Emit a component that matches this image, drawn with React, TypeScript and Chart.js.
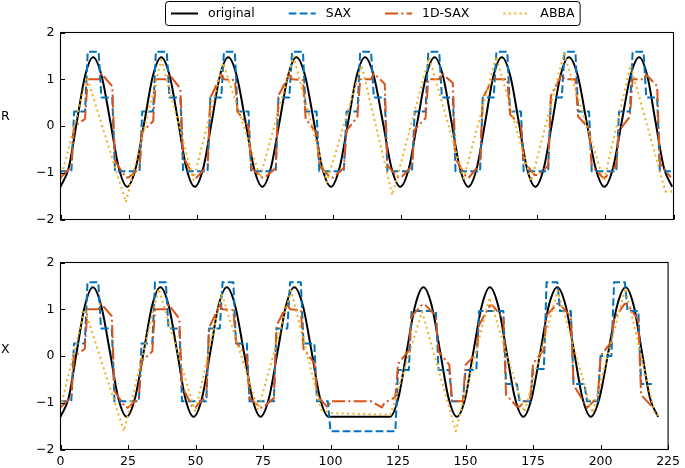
import React, { useEffect, useRef } from "react";
import { Chart, registerables } from "chart.js";

Chart.register(...registerables);

// ---------------- data ----------------
const SEGMENT_WIDTH = 5;
const X_TICKS = [0, 25, 50, 75, 100, 125, 150, 175, 200, 225];
const Y_TICKS = [-2, -1, 0, 1, 2];
const SERIES_NAMES = ["original", "SAX", "1D-SAX", "ABBA"];
const PANEL_NAMES = ["R", "X"];

// original series (key points: troughs, eighth-period points, peaks)
const R_ORIG_T = [
  0, 3, 6, 9, 12, 15.1, 18.3, 21.4, 24.5, 27.6, 30.8, 33.9, 37, 40.1, 43.2, 46.2, 49.3,
  52.4, 55.5, 58.5, 61.6, 64.7, 67.9, 71, 74.1, 77.2, 80.4, 83.5, 86.6, 89.8, 93, 96.1, 99.3,
  102.4, 105.6, 108.7, 111.8, 115, 118.3, 121.5, 124.7, 127.9, 131, 134.2, 137.3, 140.4, 143.5, 146.6, 149.7,
  152.8, 155.9, 158.9, 162, 165.1, 168.2, 171.2, 174.3, 177.4, 180.5, 183.5, 186.6, 189.9, 193.1, 196.4, 199.6,
  202.8, 206, 209.2, 212.4, 215.4, 218.4, 221.5, 224.5,
];
const R_ORIG_V = [
  -1.3,
  -0.9, 0.09, 1.07, 1.47, 1.07, 0.09, -0.9, -1.3,
  -0.9, 0.09, 1.07, 1.47, 1.07, 0.09, -0.9, -1.3,
  -0.9, 0.09, 1.07, 1.47, 1.07, 0.09, -0.9, -1.3,
  -0.9, 0.09, 1.07, 1.47, 1.07, 0.09, -0.9, -1.3,
  -0.9, 0.09, 1.07, 1.47, 1.07, 0.09, -0.9, -1.3,
  -0.9, 0.09, 1.07, 1.47, 1.07, 0.09, -0.9, -1.3,
  -0.9, 0.09, 1.07, 1.47, 1.07, 0.09, -0.9, -1.3,
  -0.9, 0.09, 1.07, 1.47, 1.07, 0.09, -0.9, -1.3,
  -0.9, 0.09, 1.07, 1.47, 1.07, 0.09, -0.9, -1.3,
];
const X_ORIG_T = [
  0, 3, 6, 9, 12, 15.1, 18.3, 21.4, 24.5, 27.6, 30.8, 33.9, 37, 40.1, 43.2, 46.2, 49.3,
  52.4, 55.5, 58.5, 61.6, 64.7, 67.9, 71, 74.1, 77.2, 80.4, 83.5, 86.6, 89.8, 93, 96.1, 99.3,
  122, 125.1, 128.2, 131.3, 134.4, 137.5, 140.6, 143.7, 146.8, 149.9, 152.9, 156, 159,
  162.1, 165.2, 168.3, 171.4, 174.5, 177.7, 180.8, 184, 187.1, 190.2, 193.3, 196.4,
  199.6, 202.9, 206.1, 209.3, 212.3, 215.3, 218.3, 221.3,
];
const X_ORIG_V = [
  -1.3,
  -0.9, 0.09, 1.07, 1.47, 1.07, 0.09, -0.9, -1.3,
  -0.9, 0.09, 1.07, 1.47, 1.07, 0.09, -0.9, -1.3,
  -0.9, 0.09, 1.07, 1.47, 1.07, 0.09, -0.9, -1.3,
  -0.9, 0.09, 1.07, 1.47, 1.07, 0.09, -0.9, -1.3,
  -1.3,
  -0.9, 0.09, 1.07, 1.47, 1.07, 0.09, -0.9, -1.3,
  -0.9, 0.09, 1.07, 1.47, 1.07, 0.09, -0.9, -1.3,
  -0.9, 0.09, 1.07, 1.47, 1.07, 0.09, -0.9, -1.3,
  -0.9, 0.09, 1.07, 1.47, 1.07, 0.09, -0.9, -1.3,
];

// SAX: one level per segment of SEGMENT_WIDTH samples
const R_SAX = [
  -0.97, 0.31, 1.59, 0.61, -0.97, -0.97, 0.31, 1.59, 0.61, -0.97,
  -0.97, 0.61, 1.59, 0.31, -0.97, -0.97, 0.61, 1.59, 0.31, -0.97,
  -0.97, 0.31, 1.59, 0.61, -0.97, -0.97, 0.31, 1.59, 0.61, -0.97,
  -0.97, 0.61, 1.59, 0.31, -0.97, -0.97, 0.61, 1.59, 0.31, -0.97,
  -0.97, 0.31, 1.59, 0.61, -0.97,
];
const X_SAX = [
  -0.97, 0.27, 1.58, 0.59, -0.97, -0.97, 0.27, 1.58, 0.59, -0.97,
  -0.97, 0.59, 1.58, 0.27, -0.97, -0.97, 0.59, 1.58, 0.27, -0.97,
  -1.61, -1.61, -1.61, -1.61, -1.61, -0.3, 0.96, 0.96, -0.3, -0.97,
  -0.3, 0.96, 0.96, -0.6, -0.97, -0.28, 1.58, 0.96, -0.6, -0.97,
  0.0, 1.58, 0.96, -0.6,
];

// 1D-SAX: value at start and end of each segment
const R_1D_START = [
  -1.1, 0.0, 1.0, 1.12, -0.75, -1.1, -0.12, 1.0, 1.1, -0.65,
  -1.1, 0.6, 1.0, 0.3, -0.9, -1.1, 0.65, 1.0, 0.15, -0.85,
  -1.1, -0.1, 1.0, 1.13, -0.85, -1.1, -0.08, 1.0, 1.13, -0.7,
  -1.1, 0.6, 1.0, 0.25, -0.75, -1.05, 0.65, 1.0, 0.2, -0.85,
  -1.1, -0.1, 1.0, 1.1, -0.8,
];
const R_1D_END = [
  -0.88, 0.15, 1.0, 0.85, -1.1, -0.9, 0.1, 1.0, 0.8, -1.1,
  -0.85, 1.1, 0.98, 0.0, -1.1, -0.9, 1.1, 0.98, -0.15, -1.1,
  -0.9, 0.2, 1.0, 0.9, -1.1, -0.86, 0.17, 1.0, 0.92, -1.1,
  -0.8, 1.05, 1.0, 0.0, -1.05, -0.85, 1.1, 1.0, -0.05, -1.1,
  -0.85, 0.2, 1.0, 0.85, -1.1,
];
const X_1D_START = [
  -1.1, 0.0, 1.0, 1.12, -0.75, -1.1, -0.12, 1.0, 1.1, -0.65,
  -1.1, 0.6, 1.0, 0.3, -0.9, -1.1, 0.65, 1.0, 0.15, -0.85,
  -0.97, -0.97, -0.97, -0.97, -1.0, -0.17, 0.85, 1.1, 0.1, -0.97,
  -0.19, 0.66, 1.08, -0.83, -1.08, -0.16, 0.87, 1.1, -0.62, -1.11,
  0.0, 0.8, 1.1, -0.83,
];
const X_1D_END = [
  -0.88, 0.15, 1.0, 0.85, -1.1, -0.9, 0.1, 1.0, 0.8, -1.1,
  -0.85, 1.1, 0.98, 0.0, -1.1, -0.9, 1.1, 0.98, -0.15, -1.1,
  -0.97, -0.97, -0.97, -1.1, -0.88, 0.12, 1.1, 0.85, -0.19, -0.97,
  0.05, 1.08, 0.8, -1.08, -0.89, 0.13, 1.12, 0.84, -1.0, -0.87,
  0.3, 1.12, 0.77, -1.08,
];

// ABBA: piecewise-linear vertices
const R_ABBA_T = [0, 9.7, 24, 37, 48.8, 59.7, 73.3, 85.5, 97.8, 110.5, 121.8, 135.3, 148, 159.9, 172.8, 184.8, 199.5, 209.2, 222, 224.5];
const R_ABBA_V = [-1.15, 1.05, -1.63, 1.42, -1.15, 1.35, -1.1, 1.49, -1.2, 1.3, -1.48, 1.47, -1.12, 1.49, -1.18, 1.55, -1.18, 1.3, -1.4, -1.4];
const X_ABBA_T = [0, 9, 23.5, 36.4, 49.9, 59.7, 73.2, 85.4, 96.5, 100, 122.2, 133.9, 146.4, 158.9, 171.8, 184.1, 197, 209.2, 220.2, 221.3];
const X_ABBA_V = [-1.1, 1.0, -1.61, 1.44, -1.2, 1.33, -1.15, 1.4, -1.15, -1.22, -1.26, 0.95, -1.61, 1.25, -1.2, 1.4, -1.22, 1.45, -1.26, -1.26];

// ---------------- styling ----------------
const FONT_FAMILY = '"DejaVu Sans", sans-serif';
const FONT_SIZE = 12.5;
const COLORS = ["#000000", "#0072BD", "#D95319", "#EDB120"];
const DASHES: number[][] = [[], [7.7, 3.3], [13, 3.3, 2, 3.3], [2, 3.4]];
const W = 685;

type Pt = { x: number; y: number };
const toPoints = (t: number[], v: number[]): Pt[] => t.map((x, i) => ({ x, y: v[i] }));
const stepPoints = (levels: number[]): Pt[] =>
  levels.flatMap((v, k) => [
    { x: k * SEGMENT_WIDTH, y: v },
    { x: k * SEGMENT_WIDTH + SEGMENT_WIDTH - 1, y: v },
  ]);
const slopePoints = (a: number[], b: number[]): Pt[] =>
  a.flatMap((v, k) => [
    { x: k * SEGMENT_WIDTH, y: v },
    { x: k * SEGMENT_WIDTH + SEGMENT_WIDTH - 1, y: b[k] },
  ]);

function makeDatasets(series: Pt[][]) {
  return series.map((data, i) => ({
    label: SERIES_NAMES[i],
    data,
    borderColor: COLORS[i],
    backgroundColor: COLORS[i],
    borderWidth: 2,
    borderDash: DASHES[i],
    borderCapStyle: "butt" as const,
    borderJoinStyle: "round" as const,
    pointRadius: 0,
    pointHoverRadius: 0,
    fill: false,
    tension: 0,
    cubicInterpolationMode: i === 0 ? ("monotone" as const) : ("default" as const),
    order: 3 - i,
  }));
}

const panelPlugin = {
  id: "panel",
  afterDraw(chart: any, _args: any, opts: any) {
    const { ctx, chartArea } = chart;
    const { left, right, top, bottom } = chartArea;
    const xs = chart.scales.x;
    const ys = chart.scales.y;
    ctx.save();
    ctx.setLineDash([]);
    ctx.strokeStyle = "#000";
    ctx.lineWidth = 1.1;
    ctx.strokeRect(left, top, right - left, bottom - top);
    ctx.lineWidth = 1;
    const tickLen = 4.5;
    ctx.beginPath();
    X_TICKS.forEach((v) => {
      const px = Math.round(xs.getPixelForValue(v)) + 0.5;
      ctx.moveTo(px, bottom);
      ctx.lineTo(px, bottom - tickLen);
    });
    Y_TICKS.forEach((v) => {
      const py = Math.round(ys.getPixelForValue(v)) + 0.5;
      ctx.moveTo(left, py);
      ctx.lineTo(left + tickLen, py);
    });
    ctx.stroke();

    ctx.fillStyle = "#000";
    ctx.font = `${FONT_SIZE}px ${FONT_FAMILY}`;
    ctx.textAlign = "left";
    ctx.textBaseline = "middle";
    ctx.fillText(opts.sideLabel, 1, opts.sideLabelY);

    if (opts.legend) {
      const boxL = 165.5;
      const boxT = 1.5;
      const boxH = 24;
      const sampleLen = 27;
      const pad = 10;
      const colSp = 34;
      const borderPad = 5.5;
      const datasets = chart.data.datasets;
      const widths = datasets.map((d: any) => ctx.measureText(d.label).width);
      let total = borderPad * 2;
      widths.forEach((w: number, i: number) => {
        total += sampleLen + pad + w + (i < widths.length - 1 ? colSp : 0);
      });
      ctx.fillStyle = "#fff";
      ctx.strokeStyle = "#000";
      ctx.lineWidth = 1;
      ctx.beginPath();
      ctx.roundRect(boxL, boxT, total, boxH, 3);
      ctx.fill();
      ctx.stroke();
      const yMid = boxT + boxH / 2;
      let x = boxL + borderPad;
      datasets.forEach((d: any, i: number) => {
        ctx.save();
        ctx.strokeStyle = d.borderColor;
        ctx.lineWidth = d.borderWidth;
        ctx.lineCap = "butt";
        ctx.setLineDash(d.borderDash || []);
        ctx.beginPath();
        ctx.moveTo(x, yMid);
        ctx.lineTo(x + sampleLen, yMid);
        ctx.stroke();
        ctx.restore();
        x += sampleLen + pad;
        ctx.fillStyle = "#000";
        ctx.fillText(d.label, x, yMid + 0.5);
        x += widths[i] + colSp;
      });
    }
    ctx.restore();
  },
};

function makeConfig(
  series: Pt[][],
  opts: { showX: boolean; padTop: number; padBottom: number; xHeight: number; sideLabel: string; sideLabelY: number; legend: boolean }
) {
  const font = { family: FONT_FAMILY, size: FONT_SIZE };
  return {
    type: "line" as const,
    data: { datasets: makeDatasets(series) },
    plugins: [panelPlugin],
    options: {
      animation: false as const,
      responsive: false,
      devicePixelRatio: 1,
      events: [],
      layout: { padding: { left: 0, right: 11.5, top: opts.padTop, bottom: opts.padBottom } },
      plugins: {
        legend: { display: false },
        tooltip: { enabled: false },
        panel: { sideLabel: opts.sideLabel, sideLabelY: opts.sideLabelY, legend: opts.legend },
      },
      scales: {
        x: {
          type: "linear" as const,
          min: 0,
          max: 225,
          afterBuildTicks: (s: any) => {
            s.ticks = X_TICKS.map((v) => ({ value: v }));
          },
          ticks: {
            display: opts.showX,
            font,
            color: "#000",
            padding: 5,
            maxRotation: 0,
            autoSkip: false,
          },
          grid: { display: false, drawTicks: false },
          border: { display: false },
          afterFit: (s: any) => {
            s.height = opts.xHeight;
          },
        },
        y: {
          type: "linear" as const,
          min: -2,
          max: 2,
          afterBuildTicks: (s: any) => {
            s.ticks = Y_TICKS.map((v) => ({ value: v }));
          },
          ticks: {
            font,
            color: "#000",
            padding: 6,
            callback: (v: any) => (Number(v) < 0 ? "\u2212" + Math.abs(Number(v)) : String(v)),
          },
          grid: { display: false, drawTicks: false },
          border: { display: false },
          afterFit: (s: any) => {
            s.width = 60.5;
          },
        },
      },
    },
  };
}

export default function App() {
  const topRef = useRef<HTMLCanvasElement>(null);
  const botRef = useRef<HTMLCanvasElement>(null);

  useEffect(() => {
    const top = new Chart(
      topRef.current as HTMLCanvasElement,
      makeConfig(
        [
          toPoints(R_ORIG_T, R_ORIG_V),
          stepPoints(R_SAX),
          slopePoints(R_1D_START, R_1D_END),
          toPoints(R_ABBA_T, R_ABBA_V),
        ],
        { showX: false, padTop: 32.5, padBottom: 20.5, xHeight: 0, sideLabel: PANEL_NAMES[0], sideLabelY: 117, legend: true }
      ) as any
    );
    const bottom = new Chart(
      botRef.current as HTMLCanvasElement,
      makeConfig(
        [
          toPoints(X_ORIG_T, X_ORIG_V),
          stepPoints(X_SAX),
          slopePoints(X_1D_START, X_1D_END),
          toPoints(X_ABBA_T, X_ABBA_V),
        ],
        { showX: true, padTop: 22.5, padBottom: 0, xHeight: 18.5, sideLabel: PANEL_NAMES[1], sideLabelY: 110, legend: false }
      ) as any
    );
    return () => {
      top.destroy();
      bottom.destroy();
    };
  }, []);

  return (
    <div style={{ position: "absolute", left: 0, top: 0, width: W, height: 468, background: "#fff" }}>
      <canvas ref={topRef} width={W} height={240} style={{ position: "absolute", left: 0, top: 0, width: W, height: 240 }} />
      <canvas ref={botRef} width={W} height={228} style={{ position: "absolute", left: 0, top: 240, width: W, height: 228 }} />
    </div>
  );
}
